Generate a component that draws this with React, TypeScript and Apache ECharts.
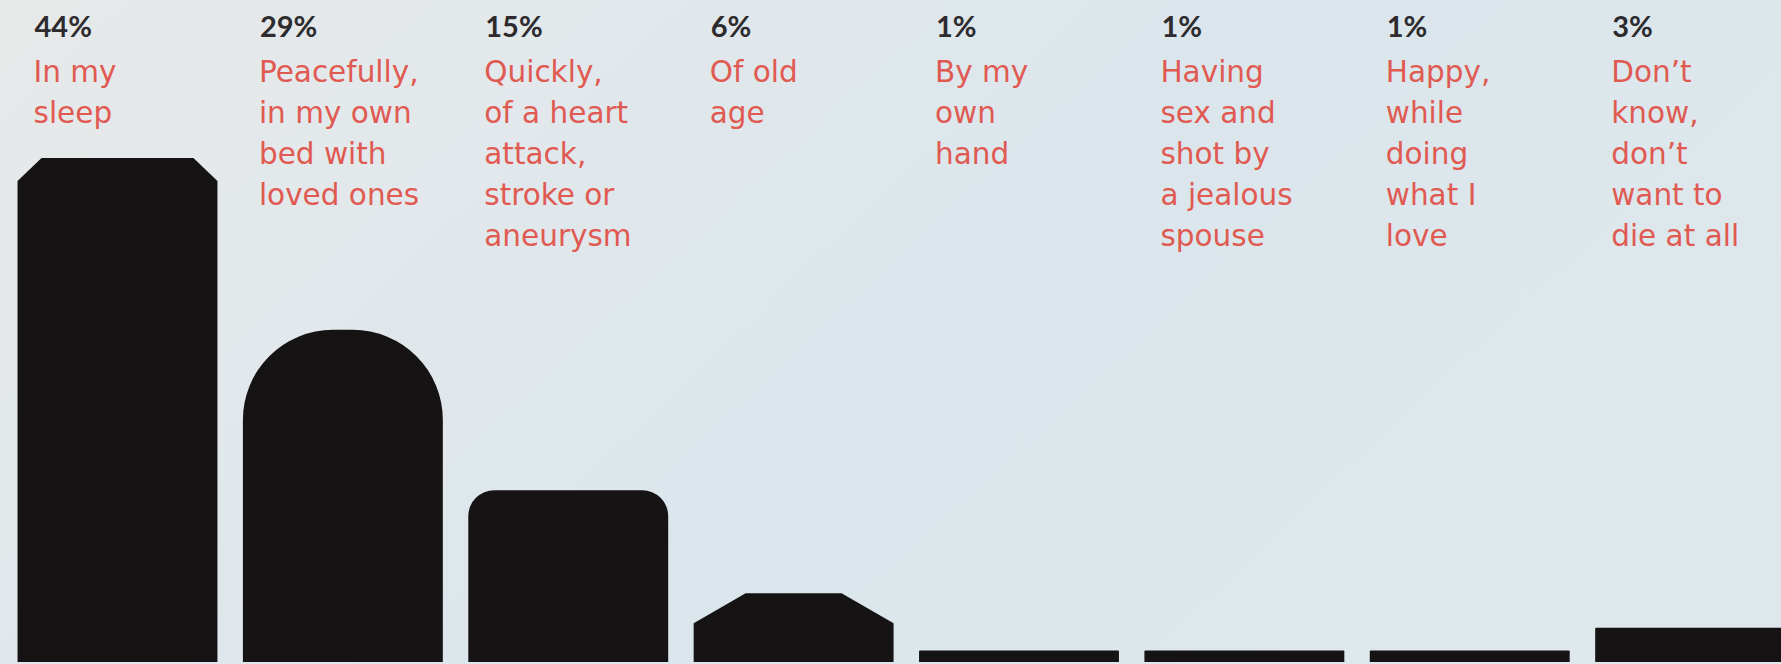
import React, { useEffect, useRef } from "react";
import * as echarts from "echarts";

const categories = [
  "In my\nsleep",
  "Peacefully,\nin my own\nbed with\nloved ones",
  "Quickly,\nof a heart\nattack,\nstroke or\naneurysm",
  "Of old\nage",
  "By my\nown\nhand",
  "Having\nsex and\nshot by\na jealous\nspouse",
  "Happy,\nwhile\ndoing\nwhat I\nlove",
  "Don’t\nknow,\ndon’t\nwant to\ndie at all",
];
const values = [44, 29, 15, 6, 1, 1, 1, 3];
const valueLabels = values.map((v) => v + "%");

// top-shape style of each bar (styling only)
const barTops = [
  { kind: "chamfer", cx: 24, cy: 23 },
  { kind: "round", r: 90 },
  { kind: "round", r: 26 },
  { kind: "chamfer", cx: 52, cy: 30 },
  { kind: "round", r: 1 },
  { kind: "round", r: 1 },
  { kind: "round", r: 1 },
  { kind: "round", r: 1 },
];

const LABEL_FONT = "'DejaVu Sans', 'Open Sans', sans-serif";
const PCT_FONT = "Lato, 'Open Sans', sans-serif";

export default function App() {
  const ref = useRef<HTMLDivElement>(null);
  useEffect(() => {
    document.body.style.margin = "0";
    if (!ref.current) return;
    const chart = echarts.init(ref.current, undefined, { renderer: "svg" });
    const option: any = {
      animation: false,
      backgroundColor: new echarts.graphic.LinearGradient(0, 0, 1, 0.4, [
        { offset: 0, color: "#e7e9e9" },
        { offset: 0.3, color: "#e2e8eb" },
        { offset: 0.6, color: "#dbe6ec" },
        { offset: 1, color: "#dde7ec" },
      ]),
      grid: { left: 0, right: 0, top: 158, bottom: 2, containLabel: false },
      xAxis: {
        type: "value",
        min: -0.5213,
        max: 7.381,
        show: false,
        splitLine: { show: false },
      },
      yAxis: {
        type: "value",
        min: 0,
        max: 44,
        show: false,
        splitLine: { show: false },
      },
      series: [
        {
          type: "custom",
          clip: false,
          data: values.map((v, i) => [i, v]),
          renderItem: (params: any, api: any) => {
            const i = api.value(0);
            const v = api.value(1);
            const top = api.coord([i, v]);
            const base = api.coord([i, 0]);
            const band = api.size([1, 0])[0];
            const w = band * 0.887;
            const x0 = top[0] - w / 2;
            const x1 = top[0] + w / 2;
            const y0 = top[1];
            const y1 = base[1];
            const t: any = barTops[i];
            const fill = "#161315";
            let bar: any;
            if (t.kind === "chamfer") {
              bar = {
                type: "polygon",
                shape: {
                  points: [
                    [x0, y1],
                    [x0, y0 + t.cy],
                    [x0 + t.cx, y0],
                    [x1 - t.cx, y0],
                    [x1, y0 + t.cy],
                    [x1, y1],
                  ],
                },
                style: { fill },
              };
            } else {
              bar = {
                type: "rect",
                shape: { x: x0, y: y0, width: w, height: y1 - y0, r: [t.r, t.r, 0, 0] },
                style: { fill },
              };
            }
            const tx = x0 + 16;
            return {
              type: "group",
              children: [
                bar,
                {
                  type: "text",
                  x: tx + 1,
                  y: 25,
                  style: {
                    text: valueLabels[i],
                    fill: "#2d2b2d",
                    fontFamily: PCT_FONT,
                    fontWeight: "bold",
                    fontSize: 29,
                    verticalAlign: "middle",
                    align: "left",
                  },
                },
                {
                  type: "text",
                  x: tx,
                  y: 51,
                  style: {
                    text: categories[i],
                    fill: "#e05a52",
                    fontFamily: LABEL_FONT,
                    fontSize: 29.5,
                    lineHeight: 41,
                    verticalAlign: "top",
                    align: "left",
                  },
                },
              ],
            };
          },
        },
      ],
    };
    chart.setOption(option);
    return () => chart.dispose();
  }, []);
  return <div ref={ref} style={{ width: 1781, height: 664 }} />;
}
